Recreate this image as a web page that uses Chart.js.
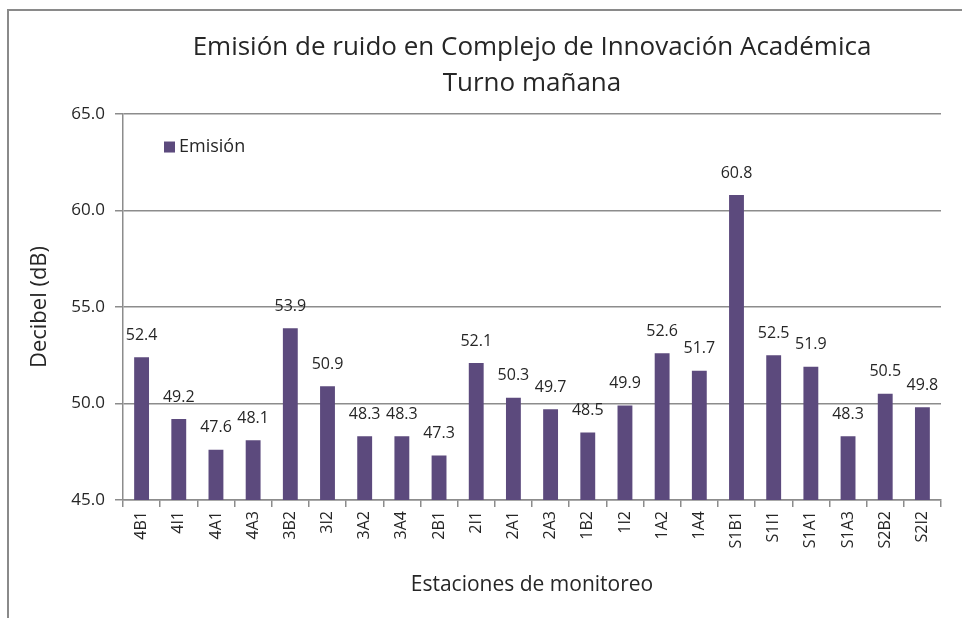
<!DOCTYPE html>
<html lang="es">
<head>
    <meta charset="UTF-8">
    <title>Emisión de ruido - Turno mañana</title>
    <script src="https://cdn.jsdelivr.net/npm/chart.js"></script>
    <style>
        body { margin: 0; background: #fff; }
        #frame { position: absolute; left: 7px; top: 9px; width: 960px; height: 620px;
                 border-left: 2px solid #8a8a8a; border-top: 2px solid #8a8a8a; }
        #wrap { position: absolute; left: 0; top: 0; width: 962px; height: 618px; }
    </style>
</head>
<body>
    <div id="frame"></div>
    <div id="wrap"><canvas id="myChart" width="962" height="618"></canvas></div>
    <script>
        // Estaciones y niveles medidos (dB)
        const estaciones = ["4B1", "4I1", "4A1", "4A3", "3B2", "3I2", "3A2", "3A4", "2B1", "2I1", "2A1",
                            "2A3", "1B2", "1I2", "1A2", "1A4", "S1B1", "S1I1", "S1A1", "S1A3", "S2B2", "S2I2"];
        const emision = [52.4, 49.2, 47.6, 48.1, 53.9, 50.9, 48.3, 48.3, 47.3, 52.1, 50.3,
                         49.7, 48.5, 49.9, 52.6, 51.7, 60.8, 52.5, 51.9, 48.3, 50.5, 49.8];

        const FONT = "'Open Sans', sans-serif";
        const TEXT = "#262626";
        const GRID = "#8c8c8c";

        // value labels above each bar
        const valueLabels = {
            id: "valueLabels",
            afterDatasetsDraw(chart) {
                const ctx = chart.ctx;
                const meta = chart.getDatasetMeta(0);
                ctx.save();
                ctx.font = "16px " + FONT;
                ctx.fillStyle = TEXT;
                ctx.textAlign = "center";
                ctx.textBaseline = "middle";
                meta.data.forEach((bar, i) => {
                    ctx.fillText(emision[i].toFixed(1), bar.x, bar.y - 22);
                });
                ctx.restore();
            }
        };

        // small legend inside the plot, top left
        const innerLegend = {
            id: "innerLegend",
            afterDraw(chart) {
                const ctx = chart.ctx;
                const area = chart.chartArea;
                const ds = chart.data.datasets[0];
                const x = area.left + 41, y = area.top + 33;
                ctx.save();
                ctx.fillStyle = ds.backgroundColor;
                ctx.fillRect(x, y - 5.5, 11, 11);
                ctx.font = "18px " + FONT;
                ctx.fillStyle = TEXT;
                ctx.textBaseline = "middle";
                ctx.fillText(ds.label, x + 15, y);
                ctx.restore();
            }
        };

        const ctx = document.getElementById("myChart").getContext("2d");
        new Chart(ctx, {
            type: "bar",
            data: {
                labels: estaciones,
                datasets: [{
                    label: "Emisión",
                    data: emision,
                    backgroundColor: "#5c4a7d",
                    categoryPercentage: 1.0,
                    barPercentage: 0.4
                }]
            },
            options: {
                responsive: false,
                animation: false,
                layout: { padding: { left: 0, right: 21, top: 0, bottom: 0 } },
                plugins: {
                    legend: { display: false },
                    tooltip: { enabled: false },
                    title: {
                        display: true,
                        fullSize: false,
                        text: ["Emisión de ruido en Complejo de Innovación Académica", "Turno mañana"],
                        color: TEXT,
                        font: { family: FONT, size: 26, weight: "normal", lineHeight: 1.385 },
                        padding: { top: 30, bottom: 12 }
                    }
                },
                scales: {
                    x: {
                        grid: { display: true, drawOnChartArea: false, color: GRID, lineWidth: 1.5, tickLength: 7, offset: true },
                        border: { color: GRID, width: 1.5 },
                        ticks: { color: TEXT, font: { family: FONT, size: 16 }, minRotation: 90, maxRotation: 90, padding: 4 },
                        title: {
                            display: true,
                            text: "Estaciones de monitoreo",
                            color: TEXT,
                            font: { family: FONT, size: 21 },
                            padding: { top: 20, bottom: 20 }
                        },
                        afterFit(scale) { scale.height = 118; }
                    },
                    y: {
                        min: 45,
                        max: 65,
                        grid: { color: GRID, lineWidth: 1.5, tickLength: 8 },
                        border: { color: GRID, width: 1.5 },
                        ticks: {
                            stepSize: 5,
                            color: TEXT,
                            font: { family: FONT, size: 17 },
                            padding: 10,
                            callback: v => v.toFixed(1)
                        },
                        title: {
                            display: true,
                            text: "Decibel (dB)",
                            color: TEXT,
                            font: { family: FONT, size: 22 },
                            padding: { top: 27, bottom: 27 }
                        },
                        afterFit(scale) { scale.width = 123; }
                    }
                }
            },
            plugins: [valueLabels, innerLegend]
        });
    </script>
</body>
</html>
